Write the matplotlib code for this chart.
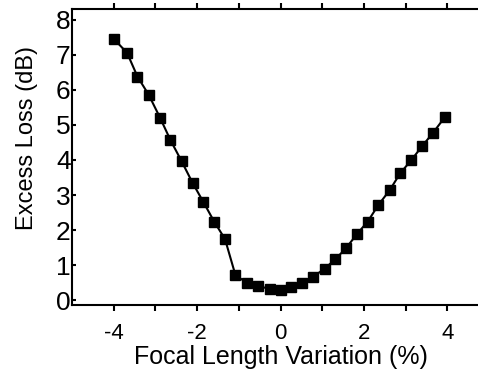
import matplotlib
matplotlib.use("Agg")
import matplotlib.pyplot as plt

plt.rcParams['font.family'] = ['Liberation Sans', 'DejaVu Sans']

# 焦点距離の変化 (%) と過剰損失 (dB)
focal_variation = [-4.0, -3.68, -3.43, -3.16, -2.89, -2.64, -2.37, -2.11, -1.85, -1.59,
                   -1.33, -1.08, -0.8, -0.53, -0.26, 0.0, 0.26, 0.52, 0.79, 1.06,
                   1.31, 1.57, 1.83, 2.09, 2.35, 2.62, 2.87, 3.14, 3.4, 3.66, 3.94]
excess_loss = [7.46, 7.06, 6.38, 5.86, 5.21, 4.57, 3.96, 3.35, 2.8, 2.24,
               1.74, 0.71, 0.49, 0.4, 0.32, 0.29, 0.38, 0.5, 0.67, 0.9,
               1.16, 1.48, 1.88, 2.24, 2.72, 3.14, 3.62, 4.0, 4.4, 4.78, 5.22]

x_ticks = [-4, -2, 0, 2, 4]
y_ticks = [0, 1, 2, 3, 4, 5, 6, 7, 8]

fig = plt.figure(figsize=(4.78, 3.75), dpi=100)
# 右端は画像の外にはみ出している
ax = fig.add_axes([72 / 478, 70 / 375, 417 / 478, 296 / 375])

ax.plot(focal_variation, excess_loss, color='black', linewidth=1.5,
        marker='s', markersize=6.5)

ax.set_xlim(-5, 5)
ax.set_ylim(-0.14, 8.31)
ax.set_xticks(x_ticks)
ax.set_xticklabels([str(t) for t in x_ticks])
ax.set_xticks([-3, -1, 1, 3], minor=True)
ax.set_yticks(y_ticks)
ax.set_yticklabels([str(t) for t in y_ticks])

for side in ['left', 'bottom', 'top', 'right']:
    ax.spines[side].set_linewidth(1.5)

ax.tick_params(axis='x', which='both', direction='out', length=4, width=1.5,
               top=True, labelsize=16, pad=9)
ax.tick_params(axis='y', direction='in', length=3, width=1.5,
               labelsize=19, pad=1)

ax.set_xlabel('Focal Length Variation (%)', fontsize=18, labelpad=1)
ax.set_ylabel('Excess Loss (dB)', fontsize=17)
ax.yaxis.set_label_coords(-0.082, 0.5625)

fig.savefig('out.png', dpi=100)
